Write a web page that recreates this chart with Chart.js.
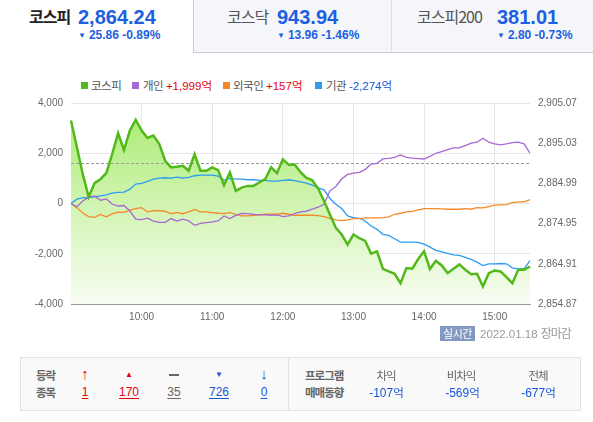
<!DOCTYPE html>
<html lang="ko">
<head>
<meta charset="UTF-8">
<title>코스피 투자자별 매매동향</title>
<script src="https://cdn.jsdelivr.net/npm/chart.js"></script>
<style>
    body {
        margin: 0;
        width: 593px;
        height: 422px;
        position: relative;
        overflow: hidden;
        background: #fff;
        font-family: "Liberation Sans", "Noto Sans CJK KR", sans-serif;
    }
    .abs { position: absolute; white-space: nowrap; }
    .tab { position: absolute; top: 0; height: 52px; }
    .tab.off { background: #f5f6f9; border-bottom: 1px solid #c9ccd3; }
    .name { font-family: "Noto Sans CJK KR", sans-serif; font-size: 16px; line-height: 20px; top: 6px; letter-spacing: -1px; }
    .price { font-size: 20px; font-weight: bold; color: #1d5fe3; line-height: 24px; top: 5px; }
    .chg { font-size: 12px; font-weight: bold; color: #1d5fe3; line-height: 14px; top: 28px; }
    .chg i { font-style: normal; font-size: 8px; vertical-align: 1px; margin-right: 3px; }
    .lg { font-family: "Noto Sans CJK KR", "Liberation Sans", sans-serif; font-size: 11.5px; line-height: 14px; top: 78px; color: #555; letter-spacing: -0.5px; }
    .lg b { font-weight: normal; font-family: "Liberation Sans", "Noto Sans CJK KR", sans-serif; letter-spacing: 0; }
    .sq { position: absolute; top: 82px; width: 7px; height: 7px; }
    #wrap { position: absolute; left: 0; top: 89px; width: 593px; height: 238px; }
    .box { position: absolute; left: 20px; top: 357px; width: 559px; height: 52px; background: #f9f9f9; border: 1px solid #e3e3e3; }
    .ko { font-family: "Noto Sans CJK KR", sans-serif; font-size: 11.5px; letter-spacing: -1px; line-height: 14px; color: #666; }
    .num { font-size: 12px; line-height: 14px; text-decoration: underline; text-underline-offset: 2px; }
    .c { transform: translateX(-50%); }
    .red { color: #e8000b; }
    .blue { color: #1a55d8; }
</style>
</head>
<body>
<!-- index tabs -->
<div class="tab" style="left:0;width:193px;"></div>
<div class="tab off" style="left:193px;width:198px;border-left:1px solid #c9ccd3;"></div>
<div class="tab off" style="left:391px;width:202px;border-left:1px solid #dcdde2;"></div>

<div class="abs name" style="left:29px;color:#222;font-weight:bold;">코스피</div>
<div class="abs price" style="left:78px;">2,864.24</div>
<div class="abs chg" style="left:78px;"><i>▼</i>25.86 -0.89%</div>

<div class="abs name" style="left:227px;color:#555;">코스닥</div>
<div class="abs price" style="left:277px;">943.94</div>
<div class="abs chg" style="left:277px;"><i>▼</i>13.96 -1.46%</div>

<div class="abs name" style="left:417px;color:#555;">코스피200</div>
<div class="abs price" style="left:497px;">381.01</div>
<div class="abs chg" style="left:497px;"><i>▼</i>2.80 -0.73%</div>

<!-- legend -->
<div class="sq" style="left:81px;background:#52b91a;"></div>
<div class="abs lg" style="left:91px;">코스피</div>
<div class="sq" style="left:132px;background:#a569d4;"></div>
<div class="abs lg" style="left:143px;">개인 <b class="red">+1,999</b><span class="red">억</span></div>
<div class="sq" style="left:223px;background:#f5892a;"></div>
<div class="abs lg" style="left:233px;">외국인 <b class="red">+157</b><span class="red">억</span></div>
<div class="sq" style="left:315px;background:#2b9cf2;"></div>
<div class="abs lg" style="left:326px;">기관 <b class="blue">-2,274</b><span class="blue">억</span></div>

<div id="wrap"><canvas id="chart" width="593" height="238"></canvas></div>

<div class="abs ko" style="left:440px;top:326px;width:35px;height:15px;line-height:15px;background:#8399c2;color:#fff;text-align:center;letter-spacing:-0.5px;font-size:11px;">실시간</div>
<div class="abs" style="left:480px;top:326px;line-height:15px;font-size:11.5px;color:#999;">2022.01.18 <span class="ko" style="color:#999;font-size:12px;">장마감</span></div>

<!-- up / down counts -->
<div class="box"></div>
<div class="abs" style="left:288px;top:358px;width:1px;height:52px;background:#e3e3e3;"></div>
<div class="abs ko" style="left:36px;top:368px;font-weight:bold;">등락</div>
<div class="abs ko" style="left:36px;top:385px;font-weight:bold;">종목</div>

<div class="abs c red" style="left:85px;top:366px;font-size:15px;font-weight:bold;line-height:16px;">↑</div>
<div class="abs c red" style="left:129px;top:369px;font-size:8px;line-height:12px;">▲</div>
<div class="abs c" style="left:174px;top:374px;width:10px;height:2px;background:#666;transform:translateX(-50%);"></div>
<div class="abs c blue" style="left:219px;top:369px;font-size:8px;line-height:12px;">▼</div>
<div class="abs c blue" style="left:264px;top:366px;font-size:15px;font-weight:bold;line-height:16px;">↓</div>

<div class="abs c num red" style="left:85px;top:385px;">1</div>
<div class="abs c num red" style="left:129px;top:385px;">170</div>
<div class="abs c num" style="left:174px;top:385px;color:#666;">35</div>
<div class="abs c num blue" style="left:219px;top:385px;">726</div>
<div class="abs c num blue" style="left:264px;top:385px;">0</div>

<!-- program trading -->
<div class="abs ko" style="left:305px;top:368px;font-weight:bold;">프로그램</div>
<div class="abs ko" style="left:305px;top:385px;font-weight:bold;">매매동향</div>
<div class="abs ko c" style="left:386px;top:368px;">차익</div>
<div class="abs c blue" style="left:386px;top:385px;font-size:12px;line-height:14px;">-107<span class="ko blue">억</span></div>
<div class="abs ko c" style="left:461px;top:368px;">비차익</div>
<div class="abs c blue" style="left:462px;top:385px;font-size:12px;line-height:14px;">-569<span class="ko blue">억</span></div>
<div class="abs ko c" style="left:538px;top:368px;">전체</div>
<div class="abs c blue" style="left:538px;top:385px;font-size:12px;line-height:14px;">-677<span class="ko blue">억</span></div>

<script>
    // 5-minute points, 9:00 ~ 15:30
    const times = [];
    for (let h = 9; h <= 15; h++) {
        for (let m = 0; m < 60; m += 5) {
            if (h === 15 && m > 30) break;
            times.push(h + ':' + String(m).padStart(2, '0'));
        }
    }

    // 코스피 지수 (right axis)
    const kospi = [
        2900.71, 2894.00, 2887.30, 2881.60, 2885.04, 2886.04, 2887.55, 2892.33, 2897.52, 2893.33,
        2898.19, 2900.88, 2898.19, 2896.35, 2896.94, 2894.84, 2890.65, 2888.98, 2889.14, 2889.40,
        2888.14, 2892.25, 2888.14, 2888.14, 2888.98, 2888.31, 2884.54, 2887.72, 2883.11, 2883.95,
        2884.37, 2884.37, 2885.21, 2886.04, 2888.98, 2887.55, 2890.99, 2889.65, 2889.73, 2887.80,
        2886.38, 2885.79, 2883.70, 2880.60, 2877.24, 2873.89, 2872.22, 2869.70, 2872.22, 2871.29,
        2870.62, 2867.44, 2868.03, 2863.67, 2863.00, 2862.41, 2860.07, 2863.84, 2863.67, 2866.10,
        2868.03, 2863.59, 2865.68, 2864.51, 2862.58, 2863.67, 2864.76, 2863.42, 2862.33, 2862.41,
        2859.23, 2862.58, 2863.25, 2863.00, 2861.57, 2860.07, 2863.42, 2863.42, 2864.24
    ];

    // 개인 / 외국인 / 기관 순매수 (억, left axis)
    const indiv = [
        0, -130, 100, 250, 300, 130, 180, -20, -100, -80,
        -300, -620, -640, -580, -700, -750, -750, -600, -700, -620,
        -690, -870, -790, -760, -735, -695, -495, -600, -470, -390,
        -400, -430, -455, -440, -470, -455, -520, -495, -400, -335,
        -308, -228, -148, -28, 505, 679, 972, 1159, 1212, 1239,
        1359, 1572, 1599, 1772, 1799, 1839, 1932, 1839, 1805, 1786,
        1772, 1879, 1999, 2065, 2145, 2212, 2212, 2305, 2399, 2439,
        2599, 2439, 2372, 2332, 2372, 2425, 2439, 2372, 1999
    ];
    const foreign = [
        0, -165, -380, -520, -555, -435, -528, -415, -348, -355,
        -268, -200, -168, -335, -288, -288, -308, -408, -355, -408,
        -335, -235, -335, -335, -361, -388, -401, -361, -428, -495,
        -495, -468, -455, -428, -428, -428, -388, -428, -468, -468,
        -468, -468, -481, -521, -588, -655, -681, -655, -601, -601,
        -575, -575, -575, -561, -535, -428, -388, -335, -315, -255,
        -201, -201, -201, -215, -228, -228, -228, -201, -228, -161,
        -175, -121, -68, -55, -41, 39, 65, 65, 157
    ];
    const inst = [
        0, 172, 225, 239, 265, 305, 345, 412, 439, 452,
        572, 772, 799, 879, 972, 1012, 1025, 1012, 1052, 1012,
        1039, 1105, 1132, 1132, 1132, 1092, 932, 999, 972, 972,
        945, 945, 919, 919, 892, 892, 919, 945, 912, 865,
        812, 732, 625, 545, 200, -28, -201, -495, -561, -588,
        -695, -895, -1028, -1228, -1268, -1401, -1535, -1535, -1535, -1548,
        -1615, -1735, -1868, -1921, -1988, -2041, -2068, -2148, -2228, -2335,
        -2468, -2401, -2401, -2388, -2401, -2561, -2601, -2601, -2274
    ];

    const leftTicks = [-4000, -2000, 0, 2000, 4000];
    const kospiTicks = [2854.87, 2864.91, 2874.95, 2884.99, 2895.03, 2905.07];
    const prevClose = 2890.10;

    // dashed line for previous close
    const prevLine = {
        id: 'prevLine',
        beforeDatasetsDraw(chart) {
            const { ctx, chartArea } = chart;
            const y = Math.round(chart.scales.yR.getPixelForValue(prevClose)) + 0.5;
            ctx.save();
            ctx.strokeStyle = '#9a9a9a';
            ctx.lineWidth = 1;
            ctx.setLineDash([3, 2]);
            ctx.beginPath();
            ctx.moveTo(chartArea.left, y);
            ctx.lineTo(chartArea.right, y);
            ctx.stroke();
            ctx.restore();
        }
    };

    function greenFill(context) {
        const area = context.chart.chartArea;
        if (!area) return 'rgba(180,238,128,0.6)';
        const g = context.chart.ctx.createLinearGradient(0, area.top, 0, area.bottom);
        g.addColorStop(0, '#a8eb6e');
        g.addColorStop(0.5, '#d0f4b0');
        g.addColorStop(1, '#f8fdf3');
        return g;
    }

    const fmt2 = v => Number(v).toLocaleString('en-US', { minimumFractionDigits: 2, maximumFractionDigits: 2 });

    new Chart(document.getElementById('chart'), {
        type: 'line',
        data: {
            labels: times,
            datasets: [{
                    label: '코스피',
                    data: kospi,
                    yAxisID: 'yR',
                    borderColor: '#52b91a',
                    borderWidth: 2.5,
                    backgroundColor: greenFill,
                    fill: 'start',
                    pointRadius: 0,
                    order: 0
                },
                {
                    label: '개인',
                    data: indiv,
                    yAxisID: 'yL',
                    borderColor: '#a569d4',
                    borderWidth: 1.3,
                    pointRadius: 0,
                    fill: false,
                    order: 1
                },
                {
                    label: '외국인',
                    data: foreign,
                    yAxisID: 'yL',
                    borderColor: '#f5892a',
                    borderWidth: 1.3,
                    pointRadius: 0,
                    fill: false,
                    order: 2
                },
                {
                    label: '기관',
                    data: inst,
                    yAxisID: 'yL',
                    borderColor: '#2b9cf2',
                    borderWidth: 1.3,
                    pointRadius: 0,
                    fill: false,
                    order: 3
                }
            ]
        },
        options: {
            responsive: false,
            animation: false,
            devicePixelRatio: 1,
            layout: { padding: { top: 1, left: 0, right: 0, bottom: 0 } },
            plugins: {
                legend: { display: false },
                tooltip: { enabled: false },
                filler: { drawTime: 'beforeDatasetsDraw' }
            },
            scales: {
                x: {
                    ticks: {
                        autoSkip: false,
                        maxRotation: 0,
                        padding: 7,
                        color: '#666',
                        font: { size: 10, family: 'Liberation Sans' },
                        callback: function (val, idx) {
                            const l = this.getLabelForValue(val);
                            return idx > 0 && l.endsWith(':00') ? l : '';
                        }
                    },
                    grid: {
                        drawTicks: false,
                        color: ctx => (ctx.tick && ctx.tick.label) ? '#e6e6e6' : 'rgba(0,0,0,0)'
                    },
                    border: { color: '#9a9a9a', width: 1 },
                    afterFit: s => { s.height = 23; }
                },
                yL: {
                    position: 'left',
                    min: -4000,
                    max: 4000,
                    afterBuildTicks: s => { s.ticks = leftTicks.map(v => ({ value: v })); },
                    ticks: {
                        padding: 8,
                        color: '#666',
                        font: { size: 10, family: 'Liberation Sans' },
                        callback: v => Number(v).toLocaleString('en-US')
                    },
                    grid: { drawTicks: false, color: '#e6e6e6' },
                    border: { display: false },
                    afterFit: s => { s.width = 71; }
                },
                yR: {
                    position: 'right',
                    min: 2854.87,
                    max: 2905.07,
                    afterBuildTicks: s => { s.ticks = kospiTicks.map(v => ({ value: v })); },
                    ticks: {
                        padding: 8,
                        color: '#666',
                        font: { size: 10, family: 'Liberation Sans' },
                        callback: fmt2
                    },
                    grid: { display: false, drawTicks: false },
                    border: { display: false },
                    afterFit: s => { s.width = 63; }
                }
            }
        },
        plugins: [prevLine]
    });
</script>
</body>
</html>
